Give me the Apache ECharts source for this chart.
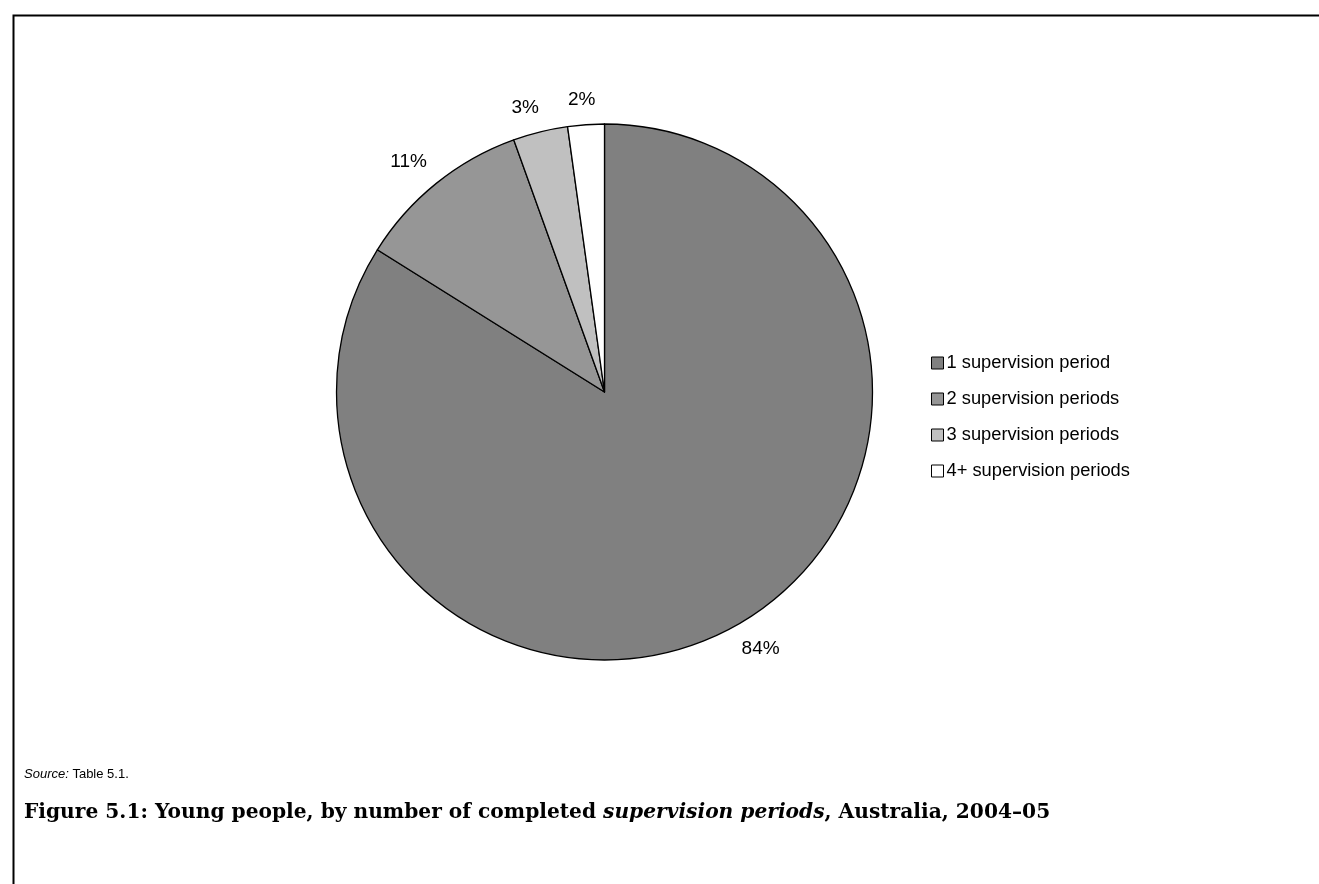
<!DOCTYPE html>
<html>
<head>
<meta charset="utf-8">
<script src="https://cdn.jsdelivr.net/npm/echarts@6/dist/echarts.min.js"></script>
<style>
html,body{margin:0;padding:0;background:#fff;}
#chart{width:1319px;height:884px;}
</style>
</head>
<body>
<div id="chart"></div>
<script>
const categories = ['1 supervision period', '2 supervision periods', '3 supervision periods', '4+ supervision periods'];
const shares = [83.9, 10.6, 3.3, 2.2];
const sliceColors = ['#808080', '#969696', '#C0C0C0', '#FFFFFF'];
const sourceLabel = 'Source:';
const sourceText = ' Table 5.1.';
const titleParts = ['Figure 5.1: Young people, by number of completed ', 'supervision periods', ', Australia, 2004–05'];

const PIE_CX = 604.5, PIE_CY = 392, PIE_R = 268, LABEL_GAP = 15;

const chart = echarts.init(document.getElementById('chart'), null, {renderer: 'canvas'});
const option = {
  backgroundColor: '#ffffff',
  animation: false,
  legend: {
    orient: 'vertical',
    left: 926,
    top: 348,
    itemWidth: 12,
    itemHeight: 12,
    itemGap: 16,
    icon: 'rect',
    data: categories,
    textStyle: {fontFamily: 'Liberation Sans, Arial, sans-serif', fontSize: 18.3, color: '#000', lineHeight: 20, padding: [0, 0, 0, -2]},
    itemStyle: {borderColor: '#000', borderWidth: 1}
  },
  series: [{
    type: 'pie',
    center: [PIE_CX, PIE_CY],
    radius: PIE_R,
    startAngle: 90,
    clockwise: true,
    avoidLabelOverlap: false,
    label: {
      show: true,
      position: 'outside',
      distanceToLabelLine: 0,
      fontFamily: 'Liberation Sans, Arial, sans-serif',
      fontSize: 19,
      color: '#000',
      formatter: p => Math.round(p.value) + '%'
    },
    labelLine: {show: false, length: LABEL_GAP, length2: 0},
    labelLayout: function (params) {
      const rc = params.labelRect;
      const w = rc.width, h = rc.height;
      const isLeft = params.align === 'left';
      const ax = isLeft ? rc.x : rc.x + w;
      const ay = rc.y + h / 2;
      const dirX = (ax - PIE_CX) / (PIE_R + LABEL_GAP);
      const dirY = (ay - PIE_CY) / (PIE_R + LABEL_GAP);
      const k = Math.min(1, Math.abs(dirX) * 3.5);
      const curCx = isLeft ? ax + w / 2 : ax - w / 2;
      const newCx = ax + Math.sign(dirX) * w / 2 * k;
      const newCy = ay + Math.sign(dirY) * h / 2;
      return {dx: newCx - curCx, dy: newCy - ay};
    },
    itemStyle: {borderColor: '#000', borderWidth: 1.3},
    emphasis: {disabled: true},
    data: categories.map((c, i) => ({name: c, value: shares[i], itemStyle: {color: sliceColors[i]}}))
  }],
  graphic: [
    {type: 'rect', left: 11, top: 13, shape: {width: 1400, height: 1000}, style: {fill: 'none', stroke: '#000', lineWidth: 2}, silent: true},
    {type: 'text', left: 24, top: 768, style: {
      text: '{i|' + sourceLabel + '}{n|' + sourceText + '}',
      rich: {
        i: {fontFamily: 'Liberation Sans, Arial, sans-serif', fontSize: 13, fontStyle: 'italic', fill: '#000'},
        n: {fontFamily: 'Liberation Sans, Arial, sans-serif', fontSize: 13, fill: '#000'}
      }
    }},
    {type: 'text', left: 24, top: 803, style: {
      text: '{b|' + titleParts[0] + '}{bi|' + titleParts[1] + '}{b|' + titleParts[2] + '}',
      rich: {
        b: {fontFamily: 'DejaVu Serif, serif', fontSize: 20.2, fontWeight: 'bold', fill: '#000'},
        bi: {fontFamily: 'DejaVu Serif, serif', fontSize: 20.2, fontWeight: 'bold', fontStyle: 'italic', fill: '#000'}
      }
    }}
  ]
};
chart.setOption(option);
</script>
</body>
</html>
